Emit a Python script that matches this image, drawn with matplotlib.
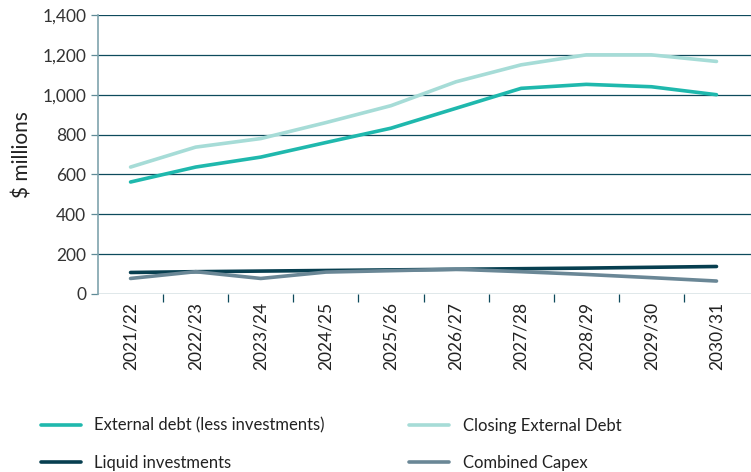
import numpy as np
import matplotlib.pyplot as plt
from matplotlib.ticker import FuncFormatter

years = ['2021/22', '2022/23', '2023/24', '2024/25', '2025/26',
         '2026/27', '2027/28', '2028/29', '2029/30', '2030/31']
external_debt = [562, 637, 687, 760, 832, 932, 1032, 1052, 1040, 1000]
closing_debt = [637, 737, 780, 860, 945, 1065, 1150, 1200, 1200, 1167]
liquid_inv = [108, 112, 115, 118, 121, 124, 127, 130, 134, 138]
capex = [78, 112, 78, 110, 117, 124, 112, 98, 82, 65]

plt.rcParams['font.family'] = ['Lato', 'DejaVu Sans']

fig = plt.figure(figsize=(7.51, 4.72), dpi=100)
ax = fig.add_axes([98 / 751, 1 - 294 / 472, 1 - 98 / 751, 279 / 472])

x = np.arange(len(years))
lw = 2.6
ax.plot(x, liquid_inv, color='#073f50', lw=lw, solid_capstyle='round', label='Liquid investments', zorder=3)
ax.plot(x, capex, color='#6a8796', lw=lw, solid_capstyle='round', label='Combined Capex', zorder=3)
ax.plot(x, closing_debt, color='#a6dcd7', lw=lw, solid_capstyle='round', label='Closing External Debt', zorder=3)
ax.plot(x, external_debt, color='#1fb8ad', lw=lw, solid_capstyle='round', label='External debt (less investments)', zorder=3)

ax.set_xlim(-0.5, 9.53)
ax.set_ylim(0, 1400)
ax.set_yticks(range(0, 1401, 200))
ax.yaxis.set_major_formatter(FuncFormatter(lambda v, p: f'{int(v):,}'))
ax.grid(axis='y', color='#0e4a5c', lw=0.9)
ax.set_axisbelow(True)

ax.set_xticks(x)
ax.set_xticklabels(years, rotation=90)
ax.set_xticks(np.arange(0.5, 9.5, 1), minor=True)
ax.tick_params(axis='x', which='major', length=0, pad=6, labelsize=12.5, colors='#222222')
ax.tick_params(axis='x', which='minor', length=6, width=0.9, color='#0e4a5c')
ax.tick_params(axis='y', length=5, width=0.9, color='#5e8a96', labelsize=12.5, labelcolor='#333333')

for s in ['top', 'right', 'bottom']:
    ax.spines[s].set_visible(False)
ax.spines['left'].set_color('#7fa3ad')
ax.spines['left'].set_linewidth(1.2)

ax.set_ylabel(r'\$ millions', fontsize=15, color='#222222', labelpad=7)

h, l = ax.get_legend_handles_labels()
order = [3, 0, 2, 1]
fig.legend([h[i] for i in order], [l[i] for i in order], ncol=2,
           loc='upper left', bbox_to_anchor=(0.034, 0.147), frameon=False,
           fontsize=12, handlelength=2.4, handletextpad=0.8,
           columnspacing=5.1, labelspacing=1.25, labelcolor='#222222')

fig.savefig('out.png', dpi=100)
